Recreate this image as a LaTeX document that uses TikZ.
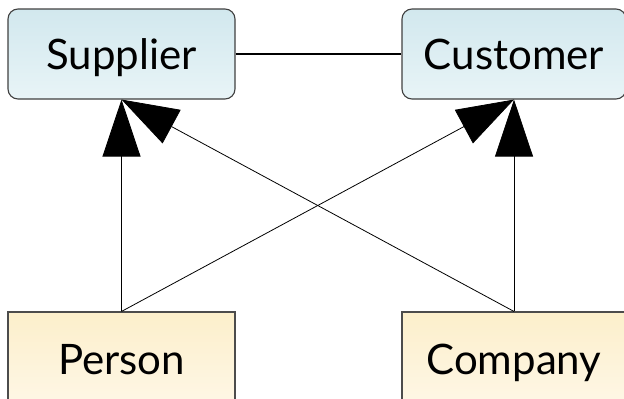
\documentclass[tikz,border=0pt]{standalone}
\usepackage{fontspec}
\setmainfont{Lato}
\usetikzlibrary{arrows.meta}
\definecolor{roletop}{HTML}{D2E8EE}
\definecolor{rolebot}{HTML}{E8F4F7}
\definecolor{kindtop}{HTML}{FCEFCB}
\definecolor{kindbot}{HTML}{FEF7E6}
\begin{document}
\begin{tikzpicture}[x=1pt, y=-1pt,
    label text/.style={font=\fontsize{42}{48}\selectfont, text height=33pt, text depth=3pt},
    role/.style={label text, draw=black!75, line width=1.1pt, rounded corners=10pt, top color=roletop, bottom color=rolebot,
      minimum height=90pt, inner sep=0pt},
    kind/.style={label text, draw=black!70, line width=1.1pt, top color=kindtop, bottom color=kindbot,
      minimum height=94pt, inner sep=0pt},
    isa/.style={-{Triangle[length=57pt, width=38pt]}, line width=0.8pt}]
  \useasboundingbox (0,0) rectangle (624,399);

  % roles
  \node[role, minimum width=227pt] (supplier) at (121.5,54) {Supplier};
  \node[role, minimum width=224pt] (customer) at (514,54) {Customer};

  % kinds
  \node[kind, minimum width=227pt] (person) at (121.5,359) {Person};
  \node[kind, minimum width=224pt] (company) at (514,359) {Company};

  \draw[line width=1.1pt] (supplier.east) -- (customer.west);

  \draw[isa] (person.north) -- (supplier.south);
  \draw[isa] (company.north) -- (supplier.south);
  \draw[isa] (person.north) -- (customer.south);
  \draw[isa] (company.north) -- (customer.south);
\end{tikzpicture}
\end{document}
